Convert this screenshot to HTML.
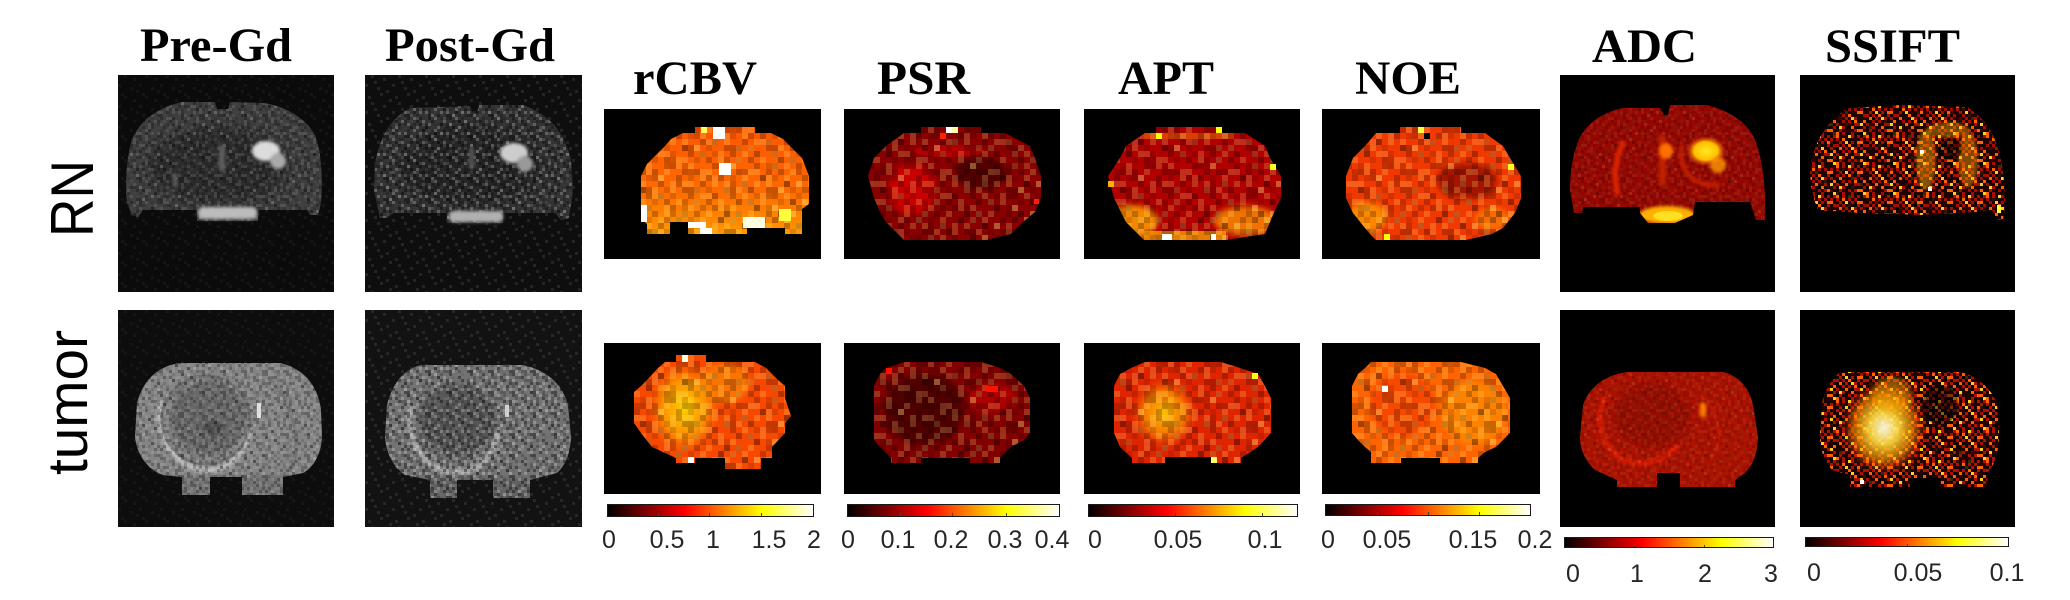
<!DOCTYPE html>
<html><head><meta charset="utf-8"><style>
html,body{margin:0;padding:0;background:#fff;}
svg{display:block;}
.t{font-family:"Liberation Serif",serif;font-weight:bold;font-size:48px;fill:#000;}
.r{font-family:"Liberation Sans",sans-serif;font-size:60px;fill:#000;}
.l{font-family:"Liberation Sans",sans-serif;font-size:25px;fill:#262626;text-anchor:middle;}
</style></head><body>
<svg xmlns="http://www.w3.org/2000/svg" width="2070" height="600" viewBox="0 0 2070 600">
<defs>
<linearGradient id="hot" x1="0" y1="0" x2="1" y2="0">
<stop offset="0" stop-color="#000"/><stop offset="0.375" stop-color="#f00"/><stop offset="0.75" stop-color="#ff0"/><stop offset="1" stop-color="#fff"/>
</linearGradient>
<radialGradient id="rgY"><stop offset="0" stop-color="#ffe820"/><stop offset="0.6" stop-color="#ffc000"/><stop offset="1" stop-color="#ff5000" stop-opacity="0"/></radialGradient>
<radialGradient id="rgSS"><stop offset="0" stop-color="#fffff0" stop-opacity="0.95"/><stop offset="0.35" stop-color="#ffe040" stop-opacity="0.9"/><stop offset="0.7" stop-color="#ffa000" stop-opacity="0.6"/><stop offset="1" stop-color="#ff4000" stop-opacity="0"/></radialGradient>
<radialGradient id="rgC"><stop offset="0" stop-color="#ffd800" stop-opacity="0.95"/><stop offset="0.6" stop-color="#ffb000" stop-opacity="0.7"/><stop offset="1" stop-color="#ff8000" stop-opacity="0"/></radialGradient>
<radialGradient id="rgA"><stop offset="0" stop-color="#ffc800" stop-opacity="0.95"/><stop offset="0.6" stop-color="#ff9a00" stop-opacity="0.7"/><stop offset="1" stop-color="#ff5000" stop-opacity="0"/></radialGradient>
<linearGradient id="cbvV" x1="0" y1="0" x2="0" y2="1"><stop offset="0" stop-color="#ff5000"/><stop offset="0.55" stop-color="#ff6a00"/><stop offset="1" stop-color="#ffb000"/></linearGradient>
<filter id="b1" x="-50%" y="-50%" width="200%" height="200%"><feGaussianBlur stdDeviation="1.5"/></filter>
<filter id="b2" x="-50%" y="-50%" width="200%" height="200%"><feGaussianBlur stdDeviation="3"/></filter>
<filter id="b5" x="-50%" y="-50%" width="200%" height="200%"><feGaussianBlur stdDeviation="5"/></filter>

<pattern id="sp6" width="42" height="42" patternUnits="userSpaceOnUse">
<g fill="#000" opacity="0.22"><rect x="0" y="0" width="6" height="6"/><rect x="18" y="6" width="6" height="6"/><rect x="24" y="12" width="6" height="6"/><rect x="6" y="18" width="6" height="6"/><rect x="36" y="18" width="6" height="6"/><rect x="30" y="24" width="6" height="6"/><rect x="12" y="30" width="6" height="6"/><rect x="0" y="36" width="6" height="6"/><rect x="36" y="36" width="6" height="6"/></g>
<g fill="#000" opacity="0.12"><rect x="24" y="0" width="6" height="6"/><rect x="6" y="6" width="6" height="6"/><rect x="36" y="12" width="6" height="6"/><rect x="0" y="24" width="6" height="6"/><rect x="18" y="36" width="6" height="6"/></g>
<g fill="#ffff80" opacity="0.2"><rect x="12" y="0" width="6" height="6"/><rect x="30" y="6" width="6" height="6"/><rect x="0" y="12" width="6" height="6"/><rect x="18" y="18" width="6" height="6"/><rect x="12" y="24" width="6" height="6"/><rect x="24" y="30" width="6" height="6"/><rect x="36" y="30" width="6" height="6"/><rect x="6" y="36" width="6" height="6"/></g>
</pattern>
<pattern id="sp6b" width="54" height="54" patternUnits="userSpaceOnUse">
<path fill="#000" opacity="0.18" d="M6 0h6v6h-6zM30 6h6v6h-6zM48 12h6v6h-6zM18 18h6v6h-6zM36 24h6v6h-6zM0 30h6v6h-6zM24 36h6v6h-6zM42 42h6v6h-6zM12 48h6v6h-6z"/>
<path fill="#ffff90" opacity="0.18" d="M18 0h6v6h-6zM42 6h6v6h-6zM0 12h6v6h-6zM30 18h6v6h-6zM12 24h6v6h-6zM48 30h6v6h-6zM36 36h6v6h-6zM6 42h6v6h-6zM24 48h6v6h-6z"/>
</pattern>

<pattern id="sp3" width="21" height="21" patternUnits="userSpaceOnUse">
<path fill="#000" opacity="0.25" d="M0 0h3v3h-3zM9 3h3v3h-3zM12 6h3v3h-3zM3 9h3v3h-3zM18 9h3v3h-3zM15 12h3v3h-3zM6 15h3v3h-3zM0 18h3v3h-3zM18 18h3v3h-3z"/>
<path fill="#000" opacity="0.12" d="M12 0h3v3h-3zM3 3h3v3h-3zM18 6h3v3h-3zM0 12h3v3h-3zM9 18h3v3h-3z"/>
<path fill="#fff" opacity="0.1" d="M6 0h3v3h-3zM15 3h3v3h-3zM0 6h3v3h-3zM9 9h3v3h-3zM6 12h3v3h-3zM12 15h3v3h-3zM18 15h3v3h-3zM3 18h3v3h-3z"/>
</pattern>
<pattern id="sp3c" width="27" height="27" patternUnits="userSpaceOnUse">
<path fill="#000" opacity="0.2" d="M3 0h3v3h-3zM15 3h3v3h-3zM24 6h3v3h-3zM9 9h3v3h-3zM18 12h3v3h-3zM0 15h3v3h-3zM12 18h3v3h-3zM21 21h3v3h-3zM6 24h3v3h-3z"/>
<path fill="#fff" opacity="0.1" d="M9 0h3v3h-3zM21 3h3v3h-3zM0 6h3v3h-3zM15 9h3v3h-3zM6 12h3v3h-3zM24 15h3v3h-3zM18 18h3v3h-3zM3 21h3v3h-3zM12 24h3v3h-3z"/>
</pattern>

<pattern id="sp3b" width="21" height="21" patternUnits="userSpaceOnUse">
<path fill="#000" opacity="0.38" d="M0 0h3v3h-3zM9 3h3v3h-3zM12 6h3v3h-3zM3 9h3v3h-3zM18 9h3v3h-3zM15 12h3v3h-3zM6 15h3v3h-3zM0 18h3v3h-3zM18 18h3v3h-3z"/>
<path fill="#000" opacity="0.2" d="M12 0h3v3h-3zM3 3h3v3h-3zM18 6h3v3h-3zM0 12h3v3h-3zM9 18h3v3h-3z"/>
<path fill="#fff" opacity="0.22" d="M6 0h3v3h-3zM15 3h3v3h-3zM0 6h3v3h-3zM9 9h3v3h-3zM6 12h3v3h-3zM12 15h3v3h-3zM18 15h3v3h-3zM3 18h3v3h-3z"/>
</pattern>

<pattern id="bgn" width="21" height="21" patternUnits="userSpaceOnUse">
<path fill="#fff" opacity="0.04" d="M6 0h3v3h-3zM15 3h3v3h-3zM0 9h3v3h-3zM12 12h3v3h-3zM3 18h3v3h-3zM18 15h3v3h-3z"/>
</pattern>
<pattern id="bgn2" width="27" height="27" patternUnits="userSpaceOnUse">
<path fill="#fff" opacity="0.09" d="M6 0h3v3h-3zM18 3h3v3h-3zM0 9h3v3h-3zM12 12h3v3h-3zM3 21h3v3h-3zM21 15h3v3h-3zM9 6h3v3h-3zM24 24h3v3h-3zM15 18h3v3h-3z"/>
</pattern>

<pattern id="ss" width="30" height="30" patternUnits="userSpaceOnUse">
<path fill="#000" opacity="0.85" d="M0 0h3v3h-3zM9 0h3v3h-3zM15 0h3v3h-3zM24 0h3v3h-3zM3 3h3v3h-3zM9 3h3v3h-3zM15 3h3v3h-3zM21 3h3v3h-3zM27 3h3v3h-3zM3 6h3v3h-3zM6 6h3v3h-3zM12 6h3v3h-3zM18 6h3v3h-3zM24 6h3v3h-3zM0 9h3v3h-3zM9 9h3v3h-3zM15 9h3v3h-3zM21 9h3v3h-3zM24 9h3v3h-3zM3 12h3v3h-3zM6 12h3v3h-3zM12 12h3v3h-3zM18 12h3v3h-3zM27 12h3v3h-3zM0 15h3v3h-3zM6 15h3v3h-3zM9 15h3v3h-3zM15 15h3v3h-3zM21 15h3v3h-3zM27 15h3v3h-3zM3 18h3v3h-3zM9 18h3v3h-3zM12 18h3v3h-3zM18 18h3v3h-3zM21 18h3v3h-3zM0 21h3v3h-3zM6 21h3v3h-3zM15 21h3v3h-3zM18 21h3v3h-3zM24 21h3v3h-3zM27 21h3v3h-3zM3 24h3v3h-3zM6 24h3v3h-3zM12 24h3v3h-3zM15 24h3v3h-3zM21 24h3v3h-3zM0 27h3v3h-3zM9 27h3v3h-3zM15 27h3v3h-3zM18 27h3v3h-3zM24 27h3v3h-3zM27 27h3v3h-3z"/>
<path fill="#ff6000" d="M6 0h3v3h-3zM12 3h3v3h-3zM0 6h3v3h-3zM27 6h3v3h-3zM18 9h3v3h-3zM9 12h3v3h-3zM3 15h3v3h-3zM24 15h3v3h-3zM15 18h3v3h-3zM21 21h3v3h-3zM0 24h3v3h-3zM27 24h3v3h-3zM6 27h3v3h-3z"/>
<path fill="#ffd020" d="M18 0h3v3h-3zM15 6h3v3h-3zM21 12h3v3h-3zM0 18h3v3h-3zM9 21h3v3h-3zM3 27h3v3h-3z"/>
</pattern>
<pattern id="ss2" width="33" height="33" patternUnits="userSpaceOnUse">
<path fill="#000" opacity="0.8" d="M0 0h3v3h-3zM12 3h3v3h-3zM24 6h3v3h-3zM6 9h3v3h-3zM18 12h3v3h-3zM30 15h3v3h-3zM3 18h3v3h-3zM15 21h3v3h-3zM27 24h3v3h-3zM9 27h3v3h-3zM21 30h3v3h-3zM30 0h3v3h-3zM18 3h3v3h-3zM3 6h3v3h-3zM27 9h3v3h-3zM12 15h3v3h-3zM24 18h3v3h-3zM0 24h3v3h-3zM15 30h3v3h-3z"/>
</pattern>

<clipPath id="cPG1"><path d="M64 27L97 27L99 34L110 34L112 27L146 28C170 32 188 44 197 60C203 76 205 100 203 128L200 140L192 140L190 135L140 135L140 146L79 146L79 135L25 135L20 142L14 140L9 128C7 108 8 86 14 64C22 46 40 32 64 27Z"/></clipPath>
<clipPath id="cPO1"><path d="M45 33L105 31L108 38L112 38L114 30L158 30C182 38 200 56 206 85L208 115L204 143L196 145L190 138L138 138L138 148L82 148L82 138L28 138L22 143L15 143L9 115L10 90C14 62 27 42 45 33Z"/></clipPath>
<clipPath id="cPG2"><path d="M62 53L162 53C185 58 200 75 203 100L204 127C203 145 195 158 185 163L165 167L165 185L124 185L124 167L92 167L92 185L64 185L64 167L45 165C30 160 19 145 17 127L19 93C25 70 40 56 62 53Z"/></clipPath>
<clipPath id="cPO2"><path d="M57 55L158 55C182 60 198 75 203 95L206 127C205 145 200 156 192 163L165 170L165 188L128 188L128 170L92 170L92 188L65 188L65 170L40 165C30 158 21 145 20 127L22 95C28 72 40 58 57 55Z"/></clipPath>
<clipPath id="cAD1"><path d="M63 33L100 33L104 40L108 40L110 30L147 30C170 36 188 48 195 65C201 80 204 100 205 120L205 145L196 145L190 127L135 127L133 140L115 148L88 148L80 138L80 132L23 132L22 138L14 138L10 115C10 95 13 78 20 62C30 45 45 37 63 33Z"/></clipPath>
<clipPath id="cSS1"><path d="M50 33L100 30L167 32C180 40 190 52 195 65C201 80 205 100 205 130L203 145L197 145L193 136L120 140L60 138L18 135C12 120 10 105 10 95C12 78 18 62 30 48C37 40 44 35 50 33Z"/></clipPath>
<clipPath id="cAD2"><path d="M68 62L163 62C180 66 190 80 193 95L198 127C197 145 193 155 185 163L175 170L175 177L120 177L120 163L97 163L97 177L57 177L57 170L35 160C25 150 20 140 20 127L23 95C30 75 48 64 68 62Z"/></clipPath>
<clipPath id="cSS2"><path d="M40 62L160 62C178 66 190 78 197 93L199 127C198 145 194 155 188 162L187 177L140 177L140 168L110 168L110 177L50 177L50 165L32 160C24 150 20 140 20 127L22 93C26 78 32 68 40 62Z"/></clipPath>
<clipPath id="cCB1"><path d="M91 18L151 18L151 24L167 24L179 30L186 37L192 43L198 49L205 67L205 95L198 100L198 125L181 125L181 119L143 119L143 125L84 125L84 113L66 113L66 125L43 125L43 115L37 110L37 67L43 55L49 49L55 43L61 37L67 30L79 24L91 24Z"/></clipPath>
<clipPath id="cPS1"><path d="M77 18L137 18L137 24L161 24L186 37L191 49L197 67L197 89L191 103L179 113L167 125L142 131L60 131L54 125L42 113L36 103L30 89L24 67L30 49L42 37L60 24L77 24Z"/></clipPath>
<clipPath id="cAP1"><path d="M72 18L137 18L137 24L161 24L181 37L186 49L197 67L197 89L191 101L186 113L181 125L142 131L60 131L54 125L42 113L36 101L30 89L24 67L36 49L42 37L61 24L72 24Z"/></clipPath>
<clipPath id="cNO1"><path d="M78 18L139 18L139 24L163 24L181 37L188 49L199 67L199 89L193 104L181 119L170 125L144 131L54 131L48 125L43 119L31 104L24 89L24 67L31 49L43 37L54 24L78 24Z"/></clipPath>
<clipPath id="cCB2"><path d="M72 12L102 12L102 19L151 19L162 25L174 37L181 43L181 55L187 73L181 80L181 90L168 104L168 115L157 115L157 126L121 126L121 115L91 115L91 120L72 120L72 115L48 104L37 90L30 80L30 49L37 43L43 37L54 25L61 19L72 19Z"/></clipPath>
<clipPath id="cPS2"><path d="M60 19L137 19L156 25L167 31L180 43L186 55L186 90L180 97L167 104L156 115L156 120L126 120L126 115L77 115L77 120L47 120L47 115L36 104L30 97L30 43L36 31L42 25Z"/></clipPath>
<clipPath id="cAP2"><path d="M61 19L137 19L156 25L174 31L181 43L187 55L187 90L174 104L157 115L157 120L127 120L127 114L81 114L81 120L48 120L48 115L36 104L30 90L30 43L36 31L47 25Z"/></clipPath>
<clipPath id="cNO2"><path d="M49 19L139 19L163 25L174 31L181 43L188 55L188 90L181 97L174 104L163 109L156 115L156 120L118 120L118 115L79 115L79 120L49 120L49 109L43 104L36 97L30 90L30 43L36 31L43 25Z"/></clipPath>
</defs>

<rect width="2070" height="600" fill="#fff"/>

<text class="t" x="140" y="61" textLength="152" lengthAdjust="spacingAndGlyphs">Pre-Gd</text>
<text class="t" x="385" y="61" textLength="170" lengthAdjust="spacingAndGlyphs">Post-Gd</text>
<text class="t" x="633" y="94" textLength="124" lengthAdjust="spacingAndGlyphs">rCBV</text>
<text class="t" x="877" y="94" textLength="93" lengthAdjust="spacingAndGlyphs">PSR</text>
<text class="t" x="1118" y="94" textLength="96" lengthAdjust="spacingAndGlyphs">APT</text>
<text class="t" x="1355" y="94" textLength="106" lengthAdjust="spacingAndGlyphs">NOE</text>
<text class="t" x="1592" y="62" textLength="105" lengthAdjust="spacingAndGlyphs">ADC</text>
<text class="t" x="1825" y="62" textLength="135" lengthAdjust="spacingAndGlyphs">SSIFT</text>

<text class="r" transform="translate(93,237) rotate(-90)" x="0" y="0" textLength="77" lengthAdjust="spacingAndGlyphs">RN</text>
<text class="r" style="font-size:57px" transform="translate(87,475) rotate(-90)" x="0" y="0" textLength="145" lengthAdjust="spacingAndGlyphs">tumor</text>

<!-- Pre-Gd R1 -->
<g transform="translate(118,75)">
<rect width="216" height="217" fill="#0b0b0b"/><rect width="216" height="217" fill="url(#bgn)"/>
<g clip-path="url(#cPG1)">
<rect width="216" height="217" fill="#3e3e3e"/>
<ellipse cx="100" cy="90" rx="70" ry="38" fill="#282828" opacity="0.7" filter="url(#b5)"/>
<rect width="216" height="217" fill="url(#sp3)"/>
<rect width="216" height="217" fill="url(#sp3c)"/>
</g>
<rect x="101" y="70" width="6" height="26" fill="#5e5e5e" filter="url(#b1)"/>
<rect x="55" y="98" width="4" height="14" fill="#5e5e5e" filter="url(#b1)"/>
<ellipse cx="148" cy="76" rx="14" ry="10" fill="#dcdcdc" filter="url(#b1)"/>
<ellipse cx="160" cy="86" rx="8" ry="8" fill="#aaaaaa" filter="url(#b1)"/>
<rect x="80" y="132" width="59" height="12" rx="5" fill="#bcbcbc" filter="url(#b1)"/>
</g>

<!-- Post-Gd R1 -->
<g transform="translate(365,75)">
<rect width="217" height="217" fill="#0e0e0e"/><rect width="217" height="217" fill="url(#bgn2)"/>
<g clip-path="url(#cPO1)">
<rect width="217" height="217" fill="#333"/>
<ellipse cx="105" cy="90" rx="70" ry="38" fill="#222" opacity="0.7" filter="url(#b5)"/>
<rect width="217" height="217" fill="url(#sp3b)"/>
<rect width="217" height="217" fill="url(#sp3c)"/>
</g>
<rect x="104" y="72" width="5" height="22" fill="#555" filter="url(#b1)"/>
<ellipse cx="149" cy="78" rx="14" ry="10" fill="#cdcdcd" filter="url(#b1)"/>
<ellipse cx="160" cy="89" rx="8" ry="8" fill="#9a9a9a" filter="url(#b1)"/>
<rect x="84" y="136" width="54" height="11" rx="4" fill="#b0b0b0" filter="url(#b1)"/>
</g>

<!-- Pre-Gd R2 -->
<g transform="translate(118,310)">
<rect width="216" height="217" fill="#0d0d0d"/><rect width="216" height="217" fill="url(#bgn)"/>
<g clip-path="url(#cPG2)">
<rect width="216" height="217" fill="#858585"/>
<ellipse cx="90" cy="108" rx="38" ry="38" fill="#626262" opacity="0.8" filter="url(#b2)"/>
<ellipse cx="95" cy="118" rx="9" ry="7" fill="#454545" opacity="0.8" filter="url(#b1)"/>
<path d="M42 92C38 128 55 155 85 160C110 162 126 146 131 120" stroke="#cfcfcf" stroke-width="5" fill="none" opacity="0.75" filter="url(#b1)"/>
<circle cx="88" cy="110" r="44" stroke="#555" stroke-width="3" fill="none" opacity="0.5"/>
<path d="M150 68C175 90 186 130 172 162" stroke="#666" stroke-width="4" fill="none" opacity="0.6"/>
<rect y="165" width="216" height="30" fill="#555" opacity="0.35" filter="url(#b1)"/>
<rect width="216" height="217" fill="url(#sp3)"/>
<rect width="216" height="217" fill="url(#sp3c)"/>
</g>
<rect x="139" y="93" width="4" height="15" fill="#e0e0e0"/>
</g>

<!-- Post-Gd R2 -->
<g transform="translate(365,310)">
<rect width="217" height="217" fill="#121212"/><rect width="217" height="217" fill="url(#bgn2)"/>
<g clip-path="url(#cPO2)">
<rect width="217" height="217" fill="#727272"/>
<ellipse cx="92" cy="110" rx="38" ry="36" fill="#505050" opacity="0.8" filter="url(#b2)"/>
<path d="M45 95C40 130 57 158 88 162C112 164 128 148 133 122" stroke="#c4c4c4" stroke-width="5" fill="none" opacity="0.7" filter="url(#b1)"/>
<rect y="168" width="217" height="30" fill="#444" opacity="0.35" filter="url(#b1)"/>
<rect width="217" height="217" fill="url(#sp3b)"/>
<rect width="217" height="217" fill="url(#sp3c)"/>
</g>
<rect x="140" y="95" width="4" height="12" fill="#d0d0d0"/>
</g>

<!-- rCBV R1 -->
<g transform="translate(604,109)">
<rect width="217" height="150" fill="#000"/>
<g clip-path="url(#cCB1)">
<rect width="217" height="150" fill="url(#cbvV)"/>
<rect width="217" height="150" fill="url(#sp6)"/>
<rect width="217" height="150" fill="url(#sp6b)"/>
</g>
<rect x="109" y="18" width="12" height="12" fill="#fff"/><rect x="97" y="18" width="6" height="6" fill="#ffff60"/>
<rect x="115" y="54" width="12" height="12" fill="#fff"/>
<rect x="84" y="113" width="18" height="6" fill="#fff"/><rect x="96" y="119" width="12" height="6" fill="#fff"/>
<rect x="139" y="108" width="22" height="11" fill="#fffde0"/>
<rect x="37" y="96" width="6" height="17" fill="#fff"/>
<rect x="175" y="100" width="12" height="12" fill="#ffff40"/>
</g>

<!-- PSR R1 -->
<g transform="translate(844,109)">
<rect width="216" height="150" fill="#000"/>
<g clip-path="url(#cPS1)">
<rect width="216" height="150" fill="#8a0000"/>
<ellipse cx="68" cy="80" rx="24" ry="26" fill="#d80000" opacity="0.8" filter="url(#b2)"/>
<ellipse cx="105" cy="42" rx="35" ry="6" fill="#d00000" opacity="0.6"/>
<ellipse cx="137" cy="64" rx="26" ry="16" fill="#480000" opacity="0.85" filter="url(#b2)"/>
<rect width="216" height="150" fill="url(#sp6)"/>
<rect width="216" height="150" fill="url(#sp6b)"/>
</g>
<rect x="102" y="18" width="6" height="6" fill="#fff"/><rect x="108" y="18" width="6" height="6" fill="#ffffa0"/>
<rect x="96" y="24" width="6" height="6" fill="#ff2000"/>
<rect x="190" y="90" width="5" height="5" fill="#ff2000"/>
</g>

<!-- APT R1 -->
<g transform="translate(1084,109)">
<rect width="216" height="150" fill="#000"/>
<g clip-path="url(#cAP1)">
<rect width="216" height="150" fill="#b00000"/>
<ellipse cx="48" cy="112" rx="26" ry="16" fill="#ffa000" opacity="0.85" filter="url(#b2)"/>
<ellipse cx="162" cy="112" rx="32" ry="15" fill="#ff9000" opacity="0.8" filter="url(#b2)"/>
<rect x="60" y="122" width="82" height="9" fill="#ffb000" opacity="0.7"/>
<rect x="60" y="24" width="90" height="6" fill="#ff8000" opacity="0.5"/>
<rect width="216" height="150" fill="url(#sp6)"/>
<rect width="216" height="150" fill="url(#sp6b)"/>
</g>
<rect x="78" y="125" width="10" height="6" fill="#fff"/><rect x="127" y="125" width="5" height="6" fill="#fff"/>
<rect x="72" y="24" width="6" height="6" fill="#ffff00"/><rect x="132" y="18" width="6" height="6" fill="#ffff00"/>
<rect x="186" y="55" width="6" height="6" fill="#ffff20"/><rect x="24" y="72" width="6" height="6" fill="#ffb000"/>
</g>

<!-- NOE R1 -->
<g transform="translate(1322,109)">
<rect width="218" height="150" fill="#000"/>
<g clip-path="url(#cNO1)">
<rect width="218" height="150" fill="#f03800"/>
<ellipse cx="145" cy="72" rx="30" ry="18" fill="#901000" opacity="0.8" filter="url(#b2)"/>
<ellipse cx="45" cy="108" rx="20" ry="15" fill="#ffa000" opacity="0.75" filter="url(#b2)"/>
<ellipse cx="170" cy="110" rx="18" ry="12" fill="#ff9000" opacity="0.6" filter="url(#b2)"/>
<rect width="218" height="150" fill="url(#sp6)"/>
<rect width="218" height="150" fill="url(#sp6b)"/>
</g>
<rect x="96" y="18" width="6" height="6" fill="#ffff40"/><rect x="102" y="24" width="6" height="6" fill="#000"/>
<rect x="186" y="55" width="6" height="6" fill="#ffff20"/><rect x="62" y="125" width="6" height="6" fill="#ffff00"/>
</g>

<!-- rCBV R2 -->
<g transform="translate(604,343)">
<rect width="217" height="151" fill="#000"/>
<g clip-path="url(#cCB2)">
<rect width="217" height="151" fill="#f84800"/>
<ellipse cx="80" cy="65" rx="36" ry="46" fill="url(#rgC)"/>
<ellipse cx="120" cy="40" rx="25" ry="20" fill="#ffa000" opacity="0.5" filter="url(#b2)"/>
<rect width="217" height="151" fill="url(#sp6)"/>
<rect width="217" height="151" fill="url(#sp6b)"/>
</g>
<rect x="78" y="12" width="6" height="7" fill="#fffde0"/><rect x="84" y="114" width="6" height="6" fill="#fff"/>
</g>

<!-- PSR R2 -->
<g transform="translate(844,343)">
<rect width="216" height="151" fill="#000"/>
<g clip-path="url(#cPS2)">
<rect width="216" height="151" fill="#820000"/>
<ellipse cx="80" cy="66" rx="40" ry="36" fill="#4a0000" opacity="0.85" filter="url(#b2)"/>
<ellipse cx="148" cy="55" rx="25" ry="14" fill="#c00000" opacity="0.7" filter="url(#b2)"/>
<rect width="216" height="151" fill="url(#sp6)"/>
<rect width="216" height="151" fill="url(#sp6b)"/>
</g>
<rect x="42" y="25" width="6" height="6" fill="#ff1000"/><rect x="142" y="43" width="12" height="6" fill="#ff1000"/>
</g>

<!-- APT R2 -->
<g transform="translate(1084,343)">
<rect width="216" height="151" fill="#000"/>
<g clip-path="url(#cAP2)">
<rect width="216" height="151" fill="#e02400"/>
<ellipse cx="80" cy="70" rx="34" ry="36" fill="url(#rgA)"/>
<rect width="216" height="151" fill="url(#sp6)"/>
<rect width="216" height="151" fill="url(#sp6b)"/>
</g>
<rect x="127" y="114" width="6" height="6" fill="#ffff60"/><rect x="168" y="30" width="6" height="6" fill="#ffff20"/>
</g>

<!-- NOE R2 -->
<g transform="translate(1322,343)">
<rect width="218" height="151" fill="#000"/>
<g clip-path="url(#cNO2)">
<rect width="218" height="151" fill="#ff6400"/>
<ellipse cx="80" cy="62" rx="32" ry="32" fill="#f03000" opacity="0.55" filter="url(#b2)"/>
<ellipse cx="152" cy="70" rx="32" ry="32" fill="#ff9a00" opacity="0.55" filter="url(#b2)"/>
<rect width="218" height="151" fill="url(#sp6)"/>
<rect width="218" height="151" fill="url(#sp6b)"/>
</g>
<rect x="60" y="43" width="6" height="6" fill="#fff"/>
</g>

<!-- ADC R1 -->
<g transform="translate(1560,75)">
<rect width="215" height="217" fill="#000"/>
<g clip-path="url(#cAD1)">
<rect width="215" height="217" fill="#960800"/>
<rect width="215" height="217" fill="url(#sp3)" opacity="0.6"/>
<rect width="215" height="217" fill="url(#sp3c)" opacity="0.6"/>
<path d="M64 66C56 82 52 100 58 120" stroke="#e02800" stroke-width="5" fill="none" filter="url(#b1)"/>
<path d="M122 70C118 95 132 112 160 110" stroke="#c82000" stroke-width="4" fill="none" filter="url(#b1)"/>
<rect x="99" y="60" width="7" height="50" fill="#c02000" filter="url(#b1)"/>
<ellipse cx="106" cy="76" rx="7" ry="8" fill="#ff7000" filter="url(#b1)"/>
<ellipse cx="146" cy="76" rx="20" ry="15" fill="url(#rgY)"/>
<ellipse cx="158" cy="90" rx="8" ry="8" fill="#ff9a00" opacity="0.8" filter="url(#b1)"/>
<ellipse cx="107" cy="140" rx="28" ry="9" fill="#ffb000" filter="url(#b1)"/>
<ellipse cx="108" cy="141" rx="15" ry="5" fill="#ffe020"/>
</g>
</g>

<!-- SSIFT R1 -->
<g transform="translate(1800,75)">
<rect width="215" height="217" fill="#000"/>
<g clip-path="url(#cSS1)">
<rect width="215" height="217" fill="#a80c00"/>
<rect width="215" height="217" fill="url(#ss)"/>
<rect width="215" height="217" fill="url(#ss2)"/>
<ellipse cx="126" cy="85" rx="10" ry="30" fill="#ffb000" opacity="0.45" filter="url(#b1)"/>
<ellipse cx="168" cy="85" rx="10" ry="28" fill="#ffa000" opacity="0.45" filter="url(#b1)"/>
<ellipse cx="148" cy="55" rx="22" ry="8" fill="#ffb000" opacity="0.4" filter="url(#b1)"/>
<ellipse cx="150" cy="74" rx="12" ry="11" fill="#000" opacity="0.45"/>
</g>
<rect x="128" y="112" width="4" height="4" fill="#fff"/><rect x="120" y="75" width="4" height="4" fill="#fff"/>
<rect x="197" y="130" width="4" height="8" fill="#ffff40"/>
</g>

<!-- ADC R2 -->
<g transform="translate(1560,310)">
<rect width="215" height="217" fill="#000"/>
<g clip-path="url(#cAD2)">
<rect width="215" height="217" fill="#ac1200"/>
<ellipse cx="92" cy="105" rx="38" ry="32" fill="#880800" opacity="0.6" filter="url(#b2)"/>
<path d="M45 85C35 110 40 140 65 150C85 158 105 150 118 135" stroke="#e82400" stroke-width="5" fill="none" opacity="0.8" filter="url(#b1)"/>
<path d="M140 85C160 100 165 130 150 150" stroke="#c81800" stroke-width="3" fill="none" opacity="0.7"/>
<rect width="215" height="217" fill="url(#sp3)" opacity="0.5"/>
<rect width="215" height="217" fill="url(#sp3c)" opacity="0.5"/>
</g>
<rect x="140" y="93" width="6" height="14" fill="#ff8000" filter="url(#b1)"/>
</g>

<!-- SSIFT R2 -->
<g transform="translate(1800,310)">
<rect width="215" height="217" fill="#000"/>
<g clip-path="url(#cSS2)">
<rect width="215" height="217" fill="#b01000"/>
<rect width="215" height="217" fill="url(#ss)"/>
<rect width="215" height="217" fill="url(#ss2)"/>
<ellipse cx="84" cy="118" rx="42" ry="46" fill="url(#rgSS)" filter="url(#b1)"/>
<ellipse cx="92" cy="85" rx="20" ry="18" fill="#ffb000" opacity="0.45" filter="url(#b2)"/>
<ellipse cx="140" cy="95" rx="18" ry="20" fill="#000" opacity="0.5"/>
</g>
<rect x="60" y="170" width="4" height="4" fill="#fff"/>
</g>

<!-- Colorbars -->
<g stroke="#1a1a1a" stroke-width="1">
<rect x="607.5" y="504.5" width="206" height="12" fill="url(#hot)"/>
<rect x="847.5" y="504.5" width="212" height="12" fill="url(#hot)"/>
<rect x="1088.5" y="504.5" width="209" height="12" fill="url(#hot)"/>
<rect x="1325.5" y="504.5" width="205" height="11" fill="url(#hot)"/>
<rect x="1564.5" y="537.5" width="209" height="10" fill="url(#hot)"/>
<rect x="1805.5" y="537.5" width="203" height="9" fill="url(#hot)"/>
</g>
<g stroke="#444" stroke-width="1">
<path d="M658.5 513v3M709.5 513v3M761.5 513v3M900.5 513v3M952.5 513v3M1006.5 513v3M1175.5 513v3M1262.5 513v3M1377.5 512v3M1428.5 512v3M1479.5 512v3M1634.5 545v2M1704.5 545v2M1907.5 544v2"/>
</g>

<g class="l">
<text x="609" y="548">0</text><text x="667" y="548">0.5</text><text x="713" y="548">1</text><text x="769" y="548">1.5</text><text x="814" y="548">2</text>
<text x="848" y="548">0</text><text x="898" y="548">0.1</text><text x="951" y="548">0.2</text><text x="1005" y="548">0.3</text><text x="1052" y="548">0.4</text>
<text x="1095" y="548">0</text><text x="1178" y="548">0.05</text><text x="1265" y="548">0.1</text>
<text x="1328" y="548">0</text><text x="1387" y="548">0.05</text><text x="1473" y="548">0.15</text><text x="1535" y="548">0.2</text>
<text x="1573" y="582">0</text><text x="1637" y="582">1</text><text x="1705" y="582">2</text><text x="1771" y="582">3</text>
<text x="1814" y="581">0</text><text x="1918" y="581">0.05</text><text x="2007" y="581">0.1</text>
</g>
</svg>
</body></html>
